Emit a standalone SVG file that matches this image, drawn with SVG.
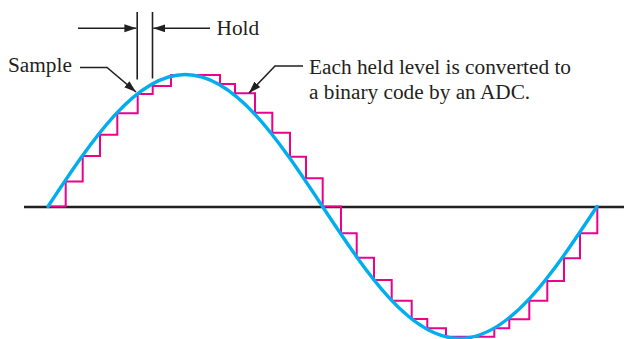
<svg xmlns="http://www.w3.org/2000/svg" width="624" height="339" viewBox="0 0 624 339">
  <style>
    .lbl { font-family: "Liberation Serif", "Times New Roman", serif; font-size: 21.3px; fill: #231f20; }
    .lead { fill: none; stroke: #231f20; stroke-width: 1.6; }
    .axis { fill: none; stroke: #231f20; stroke-width: 2.4; }
    .wave { fill: none; stroke: #00aeef; stroke-width: 3.4; stroke-linecap: round; }
    .stair { fill: none; stroke: #ec008c; stroke-width: 2; stroke-linejoin: miter; }
  </style>
  <defs>
    <marker id="arr" markerUnits="userSpaceOnUse" markerWidth="13" markerHeight="9" refX="12" refY="4" orient="auto">
      <path d="M0,0 L12,4 L0,8 z" fill="#231f20"/>
    </marker>
  </defs>
  <rect width="624" height="339" fill="#ffffff"/>

  <g id="axis">
    <line class="axis" x1="24" y1="207" x2="624" y2="207"/>
  </g>

  <g id="staircase">
    <path class="stair" d="M48,206.5 H65.7 V181.5 H82.7 V156 H100 V134.7 H117.3 V113.3 H137.7 V94 H152.7 V86 H171 V75 H220 V84 H235 V93.3 H255 V112.7 H272.3 V132.7 H290 V156.7 H306 V178.3 H322.7 V206.5 H341 V233.3 H356.7 V257.7 H374 V280 H391.7 V300.7 H411.7 V319 H427.3 V328.3 H446 V336.7 H494.3 V328.3 H509.3 V319.3 H529.3 V300.7 H547.3 V281 H564 V258.3 H580 V233.3 H597.3 V206.5"/>
  </g>

  <g id="waveform">
    <path class="wave" d="M48,206.5 C92.76,138.88 135.58,74.5 185.25,74.5 C234.92,74.5 277.74,138.88 322.5,206.5 C367.26,274.12 410.08,338.5 459.75,338.5 C509.42,338.5 552.24,274.12 597,206.5"/>
  </g>

  <g id="hold-marker">
    <line class="lead" x1="137.2" y1="12" x2="137.2" y2="79.5"/>
    <line class="lead" x1="152.5" y1="12" x2="152.5" y2="78.5"/>
  </g>

  <g id="connectors">
    <path class="lead" d="M78,28.3 H136.4" marker-end="url(#arr)"/>
    <path class="lead" d="M210,28.3 H153.3" marker-end="url(#arr)"/>
    <path class="lead" d="M80,67.5 H107 L136,92" marker-end="url(#arr)"/>
    <path class="lead" d="M303,66 H275 L249,93" marker-end="url(#arr)"/>
  </g>

  <g id="label-hold">
    <text class="lbl" x="216.5" y="35">Hold</text>
  </g>
  <g id="label-sample">
    <text class="lbl" x="8" y="72">Sample</text>
  </g>
  <g id="label-adc">
    <text class="lbl" x="309" y="74">Each held level is converted to</text>
    <text class="lbl" x="309" y="98.5">a binary code by an ADC.</text>
  </g>
</svg>
